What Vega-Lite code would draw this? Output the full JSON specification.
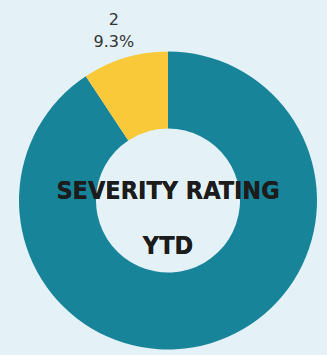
{
  "$schema": "https://vega.github.io/schema/vega-lite/v6.json",
  "width": 327,
  "height": 355,
  "autosize": {"type": "fit", "contains": "padding"},
  "padding": {"left": 9, "top": 46, "right": 0, "bottom": 0},
  "background": "#e4f2f8",
  "view": {"stroke": null},
  "data": {
    "values": [
      {"rating": "1", "pct": 90.7, "label": "", "order": 1},
      {"rating": "2", "pct": 9.3, "label": "2\n9.3%", "order": 2}
    ]
  },
  "layer": [
    {
      "mark": {"type": "arc", "innerRadius": 72, "outerRadius": 149, "stroke": null},
      "encoding": {
        "theta": {"field": "pct", "type": "quantitative", "stack": true},
        "order": {"field": "order", "type": "quantitative"},
        "color": {
          "field": "rating",
          "type": "nominal",
          "scale": {"domain": ["1", "2"], "range": ["#17849a", "#f9c93a"]},
          "legend": null
        }
      }
    },
    {
      "mark": {"type": "text", "radius": 188, "font": "DejaVu Sans", "fontSize": 16, "color": "#333333", "lineBreak": "\n", "lineHeight": 22, "baseline": "middle", "align": "center"},
      "encoding": {
        "theta": {"field": "pct", "type": "quantitative", "stack": true},
        "order": {"field": "order", "type": "quantitative"},
        "text": {"field": "label"}
      }
    },
    {
      "mark": {"type": "text", "text": "SEVERITY RATING", "font": "DejaVu Sans Condensed", "fontWeight": "bold", "fontSize": 25, "color": "#1c1c1c", "dy": -10, "baseline": "middle", "align": "center"},
      "encoding": {}
    },
    {
      "mark": {"type": "text", "text": "YTD", "font": "DejaVu Sans Condensed", "fontWeight": "bold", "fontSize": 25, "color": "#1c1c1c", "dy": 45, "baseline": "middle", "align": "center"},
      "encoding": {}
    }
  ]
}
